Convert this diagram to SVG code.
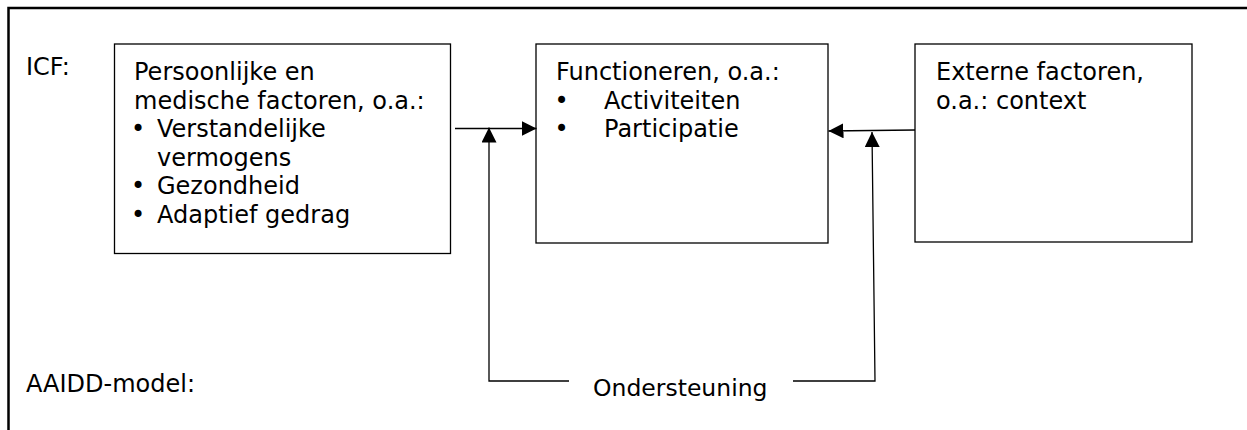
<svg xmlns="http://www.w3.org/2000/svg" width="1247" height="430" viewBox="0 0 1247 430">
<defs>
<marker id="ah" viewBox="0 0 15 15" refX="15" refY="7.5" markerWidth="15" markerHeight="15" markerUnits="userSpaceOnUse" orient="auto">
<path d="M0,0 L15,7.5 L0,15 z" fill="#000"/>
</marker>
<style>
text{font-family:"DejaVu Sans","Liberation Sans",sans-serif;font-size:24px;fill:#000}
.box{fill:#fff;stroke:#000;stroke-width:1.3}
.con{fill:none;stroke:#000;stroke-width:1.3}
.frame{fill:none;stroke:#000;stroke-width:2.5}
</style>
</defs>
<rect width="1247" height="430" fill="#fff"/>
<path class="frame" d="M8.5,430 V8 H1247"/>
<g id="label-icf"><text x="26" y="75">ICF:</text></g>
<g id="label-aaidd"><text x="26" y="392">AAIDD-model:</text></g>
<g id="node-persoonlijk">
<rect class="box" x="114.5" y="44" width="336" height="209.5"/>
<text x="134" y="80">Persoonlijke en</text>
<text x="134" y="108.6">medische factoren, o.a.:</text>
<text x="131" y="137.2">•</text><text x="157" y="137.2">Verstandelijke</text>
<text x="157" y="165.8">vermogens</text>
<text x="131" y="194.4">•</text><text x="157" y="194.4">Gezondheid</text>
<text x="131" y="223">•</text><text x="157" y="223">Adaptief gedrag</text>
</g>
<g id="node-functioneren">
<rect class="box" x="536" y="44" width="292" height="199"/>
<text x="556" y="80">Functioneren, o.a.:</text>
<text x="554.5" y="108.5">•</text><text x="604" y="108.5">Activiteiten</text>
<text x="554.5" y="137">•</text><text x="604" y="137">Participatie</text>
</g>
<g id="node-extern">
<rect class="box" x="915" y="44" width="277" height="198"/>
<text x="936" y="80">Externe factoren,</text>
<text x="936" y="108.5">o.a.: context</text>
</g>
<g id="node-ondersteuning"><text x="593" y="396" style="font-size:23.5px">Ondersteuning</text></g>
<g id="connectors">
<path class="con" d="M455,128.5 H536.5" marker-end="url(#ah)"/>
<path class="con" d="M915,130 L828.5,131" marker-end="url(#ah)"/>
<path class="con" d="M569,381 H489 V127.5" marker-end="url(#ah)"/>
<path class="con" d="M793,381 H875 L872,132" marker-end="url(#ah)"/>
</g>
</svg>
